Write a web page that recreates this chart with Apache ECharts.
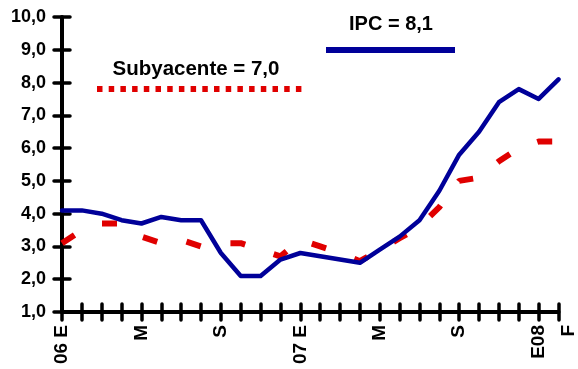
<!DOCTYPE html>
<html>
<head>
<meta charset="utf-8">
<script src="https://cdn.jsdelivr.net/npm/echarts@6/dist/echarts.min.js"></script>
<style>
html,body{margin:0;padding:0;background:#fff;}
#c{width:578px;height:369px;}
</style>
</head>
<body>
<div id="c"></div>
<script>
// Months Jan 2006 .. Feb 2008
var categories = ['06 E','F','M','A','M','J','J','A','S','O','N','D',
                  '07 E','F','M','A','M','J','J','A','S','O','N','D',
                  'E08','F'];
var ipc = [4.1,4.1,4.0,3.8,3.7,3.9,3.8,3.8,2.8,2.1,2.1,2.6,
           2.8,2.7,2.6,2.5,2.9,3.3,3.8,4.7,5.8,6.5,7.4,7.8,
           7.5,8.1];
var subyacente = [3.1,3.5,3.7,3.7,3.3,3.1,3.2,3.0,3.1,3.1,2.9,2.7,
                  3.2,3.0,2.8,2.55,2.9,3.25,3.6,4.2,5.0,5.1,5.6,6.0,
                  6.2,6.2];
var shownLabels = [0,4,8,12,16,20,24,25];
var legendIPC = 'IPC = 8,1';
var legendSub = 'Subyacente = 7,0';

var FONT = '"Liberation Sans", Arial, sans-serif';
var chart = echarts.init(document.getElementById('c'), null, {renderer:'canvas'});

function xAxisBase(inside, showLabel, showLine){
  return {
    type:'category', data:categories, boundaryGap:false, position:'bottom',
    axisLine:{show:showLine, onZero:false, lineStyle:{color:'#000', width:4}},
    axisTick:{show:true, inside:inside, length:8, interval:0,
              lineStyle:{color:'#000', width:3.5, cap:'round'}},
    axisLabel:{show:showLabel, interval:function(i){return shownLabels.indexOf(i)>=0;},
               rotate:90, margin:13, color:'#000', fontFamily:FONT, fontWeight:'bold', fontSize:19,
               formatter:function(v,i){ return i===25 ? '{f|'+v+'}' : v; },
               rich:{f:{padding:[20,0,0,0], color:'#000', fontFamily:FONT, fontWeight:'bold', fontSize:19}}},
    splitLine:{show:false}
  };
}
function yAxisBase(inside, showLabel, showLine){
  return {
    type:'value', min:1, max:10, interval:1, position:'left',
    axisLine:{show:showLine, lineStyle:{color:'#000', width:4}},
    axisTick:{show:true, inside:inside, length:8,
              lineStyle:{color:'#000', width:3.5, cap:'round'}},
    axisLabel:{show:showLabel, margin:16, color:'#000', fontFamily:FONT, fontWeight:'bold', fontSize:18,
               formatter:function(v){return v.toFixed(1).replace('.',',');}},
    splitLine:{show:false}
  };
}

chart.setOption({
  animation:false,
  backgroundColor:'#fff',
  grid:{left:62, right:16, top:17, bottom:57},
  xAxis:[xAxisBase(false,true,true), xAxisBase(true,false,false)],
  yAxis:[yAxisBase(false,true,true), yAxisBase(true,false,false)],
  series:[
    {name:'Subyacente', type:'line', data:subyacente, xAxisIndex:0, yAxisIndex:0,
     symbol:'none', z:2,
     lineStyle:{color:'#e00000', width:6, type:[15,30], cap:'butt'}},
    {name:'IPC', type:'line', data:ipc, xAxisIndex:0, yAxisIndex:0,
     symbol:'none', z:3,
     lineStyle:{color:'#000099', width:4.5, cap:'round', join:'round'}}
  ],
  graphic:[
    {type:'text', x:391, y:24, style:{text:legendIPC, x:0, y:0, fill:'#000', font:'bold 20px '+FONT, align:'center', verticalAlign:'middle'}},
    {type:'line', shape:{x1:326, y1:50, x2:455, y2:50}, style:{stroke:'#000099', lineWidth:6}},
    {type:'text', x:196, y:69, style:{text:legendSub, x:0, y:0, fill:'#000', font:'bold 20.5px '+FONT, align:'center', verticalAlign:'middle'}},
    {type:'line', shape:{x1:97, y1:89, x2:302, y2:89}, style:{stroke:'#e00000', lineWidth:6, lineDash:[5.5,6.2], lineCap:'butt'}}
  ]
});
</script>
</body>
</html>
